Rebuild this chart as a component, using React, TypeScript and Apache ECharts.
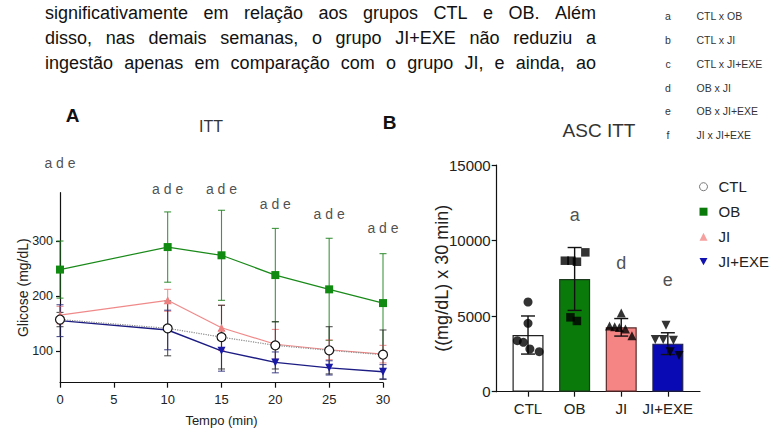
import React, { useEffect, useRef } from "react";
import * as echarts from "echarts";

const FONT = '"Liberation Sans", Arial, sans-serif';

// ---- Paragraph text (top of the page) ----
const PARAGRAPH_LINES = [
  "significativamente em relação aos grupos CTL e OB. Além",
  "disso, nas demais semanas, o grupo JI+EXE não reduziu a",
  "ingestão apenas em comparação com o grupo JI, e ainda, ao",
];

// ---- Key of significance letters ----
const KEY_LETTERS = ["a", "b", "c", "d", "e", "f"];
const KEY_TEXTS = ["CTL x OB", "CTL x JI", "CTL x JI+EXE", "OB x JI", "OB x JI+EXE", "JI x JI+EXE"];

// ---- Panel A: ITT ----
const TIMES = [0, 10, 15, 20, 25, 30];
const CTL_MEAN = [157, 141, 125, 110, 101, 93];
const CTL_SD = [13, 50, 58, 43, 43, 45];
const OB_MEAN = [248, 289, 274, 238, 212, 187];
const OB_SD = [52, 64, 82, 85, 93, 90];
const JI_MEAN = [165, 192, 142, 112, 102, 94];
const JI_SD = [16, 20, 41, 27, 18, 16];
const JEX_MEAN = [155, 138, 100, 79, 69, 62];
const JEX_SD = [29, 36, 37, 19, 13, 13];
const SIG_A_TEXT = ["a d e", "a d e", "a d e", "a d e", "a d e", "a d e"];
const SIG_A_Y = [442, 395, 395, 367, 349, 324];
const Y_TICKS_A = [100, 200, 300];

// ---- Panel B: ASC ITT ----
const GROUPS = ["CTL", "OB", "JI", "JI+EXE"];
const AUC_MEAN = [3750, 7460, 4260, 3180];
const AUC_SD = [1260, 2080, 580, 720];
const CTL_PTS = [5935, 4525, 3375, 3270, 2825, 2650];
const CTL_JIT = [0, 0, -0.23, -0.1, 0.04, 0.24];
const OB_PTS = [8668, 8668, 8600, 9220, 4920, 4680];
const OB_JIT = [-0.21, -0.07, 0.05, 0.23, -0.09, 0.05];
const JI_PTS = [5200, 4350, 4300, 4250, 4150, 3700];
const JI_JIT = [0, -0.25, -0.14, -0.04, 0.09, 0.23];
const JEX_PTS = [4400, 3450, 3450, 3400, 2650, 2400];
const JEX_JIT = [-0.04, -0.27, -0.1, 0.12, 0.05, 0.24];
const SIG_B_TEXT = ["a", "d", "e"];
const SIG_B_X = [1, 2, 3];
const SIG_B_Y = [11700, 8500, 7400];

const C_OB = "#1a8a1a";
const C_JI = "#f08a8a";
const C_JEX = "#1c1c84";
const C_CTL_LINE = "#8a8a8a";

function errRender(color: string, half: number, width: number) {
  return (params: any, api: any) => {
    const x = api.value(0);
    const pLo = api.coord([x, api.value(1)]);
    const pHi = api.coord([x, api.value(2)]);
    const style = { stroke: color, lineWidth: width, fill: "none" };
    return {
      type: "group",
      children: [
        { type: "line", shape: { x1: pLo[0], y1: pLo[1], x2: pHi[0], y2: pHi[1] }, style },
        { type: "line", shape: { x1: pHi[0] - half, y1: pHi[1], x2: pHi[0] + half, y2: pHi[1] }, style },
        { type: "line", shape: { x1: pLo[0] - half, y1: pLo[1], x2: pLo[0] + half, y2: pLo[1] }, style },
      ],
    };
  };
}

function errData(xs: number[], mean: number[], sd: number[]) {
  return xs.map((x, i) => [x, mean[i] - sd[i], mean[i] + sd[i]]);
}

function errSeries(name: string, xi: number, data: any[], color: string, half: number, width: number, z: number) {
  return {
    name,
    type: "custom",
    xAxisIndex: xi,
    yAxisIndex: xi,
    silent: true,
    z,
    renderItem: errRender(color, half, width),
    encode: { x: 0, y: [1, 2] },
    data,
  };
}

export default function App() {
  const ref = useRef<HTMLDivElement>(null);

  useEffect(() => {
    if (!ref.current) return;
    const chart = echarts.init(ref.current, null, { renderer: "svg" });

    // justified paragraph
    const ctx = document.createElement("canvas").getContext("2d")!;
    const PFS = 18;
    ctx.font = `${PFS}px "Liberation Sans"`;
    const pLeft = 45;
    const pRight = 596;
    const lineY = [13, 38, 63];
    const paraEls: any[] = [];
    PARAGRAPH_LINES.forEach((line, li) => {
      const words = line.split(" ");
      const ws = words.map((w) => ctx.measureText(w).width);
      const total = ws.reduce((a, b) => a + b, 0);
      const gap = (pRight - pLeft - total) / (words.length - 1);
      let x = pLeft;
      words.forEach((w, i) => {
        paraEls.push({
          type: "text",
          x,
          y: lineY[li],
          style: { text: w, fontSize: PFS, fontFamily: FONT, fill: "#111", align: "left", verticalAlign: "middle" },
        });
        x += ws[i] + gap;
      });
    });

    const keyEls: any[] = [];
    const keyY = [16, 40, 63.5, 87.5, 111, 135];
    KEY_LETTERS.forEach((l, i) => {
      keyEls.push({
        type: "text",
        x: 668,
        y: keyY[i],
        style: { text: l, fontSize: 10.5, fontFamily: FONT, fill: "#333", align: "center", verticalAlign: "middle" },
      });
      keyEls.push({
        type: "text",
        x: 696.5,
        y: keyY[i],
        style: { text: KEY_TEXTS[i], fontSize: 10.5, fontFamily: FONT, fill: "#333", align: "left", verticalAlign: "middle" },
      });
    });

    const axisLine = { show: true, onZero: false, lineStyle: { color: "#111", width: 1.2 } };
    const tickStyle = { color: "#111", width: 1.2 };

    const option: any = {
      animation: false,
      textStyle: { fontFamily: FONT },
      grid: [
        { left: 60, top: 192.7, width: 323, height: 190 },
        { left: 496.7, top: 165, width: 203.3, height: 226.7 },
      ],
      xAxis: [
        {
          type: "value",
          gridIndex: 0,
          min: 0,
          max: 30,
          interval: 5,
          axisLine,
          axisTick: { show: true, length: 5, lineStyle: tickStyle },
          axisLabel: { fontSize: 13, color: "#222", margin: 10 },
          splitLine: { show: false },
          name: "Tempo (min)",
          nameLocation: "middle",
          nameGap: 31,
          nameMoveOverlap: false,
          nameTextStyle: { fontSize: 13, color: "#222" },
        },
        {
          type: "value",
          gridIndex: 1,
          min: -0.672,
          max: 3.69,
          axisLine,
          axisTick: { show: true, length: 5, lineStyle: tickStyle, customValues: [0, 1, 2, 3] },
          axisLabel: {
            customValues: [0, 1, 2, 3],
            formatter: (v: number) => GROUPS[Math.round(v)],
            fontSize: 15,
            color: "#222",
            margin: 9,
          },
          splitLine: { show: false },
        },
      ],
      yAxis: [
        {
          type: "value",
          gridIndex: 0,
          min: 42,
          max: 388,
          axisLine,
          axisTick: { show: true, length: 4, lineStyle: tickStyle, customValues: Y_TICKS_A },
          axisLabel: { customValues: Y_TICKS_A, fontSize: 12.5, color: "#222", margin: 7 },
          splitLine: { show: false },
          name: "Glicose (mg/dL)",
          nameLocation: "middle",
          nameGap: 30,
          nameMoveOverlap: false,
          nameTextStyle: { fontSize: 14, color: "#222" },
        },
        {
          type: "value",
          gridIndex: 1,
          min: 0,
          max: 15000,
          interval: 5000,
          axisLine,
          axisTick: { show: true, length: 5, lineStyle: tickStyle },
          axisLabel: { fontSize: 15, color: "#222", margin: 6, formatter: (v: number) => String(v) },
          splitLine: { show: false },
          name: "((mg/dL) x 30 min)",
          nameLocation: "middle",
          nameGap: 46,
          nameMoveOverlap: false,
          nameTextStyle: { fontSize: 18, color: "#222" },
        },
      ],
      legend: {
        orient: "vertical",
        left: 694,
        top: 173.7,
        itemWidth: 8,
        itemHeight: 8,
        itemGap: 9,
        textStyle: { fontSize: 15, color: "#222", lineHeight: 16, padding: [0, 0, 0, 6] },
        data: [
          { name: "CTL", icon: "circle", itemStyle: { color: "#fff", borderColor: "#777", borderWidth: 1 } },
          { name: "OB", icon: "rect", itemStyle: { color: "#0a7a0a", borderWidth: 0 } },
          { name: "JI", icon: "triangle", itemStyle: { color: "#f7a0a0", borderWidth: 0 } },
          { name: "JI+EXE", icon: "path://M0,0 L10,0 L5,9 Z", itemStyle: { color: "#1212b0", borderWidth: 0 } },
        ],
      },
      graphic: [
        ...paraEls,
        ...keyEls,
        { type: "text", x: 72.5, y: 115, style: { text: "A", fontSize: 19, fontWeight: "bold", fontFamily: FONT, fill: "#111", align: "center", verticalAlign: "middle" } },
        { type: "text", x: 389.5, y: 122, style: { text: "B", fontSize: 19, fontWeight: "bold", fontFamily: FONT, fill: "#111", align: "center", verticalAlign: "middle" } },
        { type: "text", x: 211, y: 126.5, style: { text: "ITT", fontSize: 16, fontFamily: FONT, fill: "#333", align: "center", verticalAlign: "middle" } },
        { type: "text", x: 599, y: 130.5, style: { text: "ASC ITT", fontSize: 19, fontFamily: FONT, fill: "#333", align: "center", verticalAlign: "middle" } },
      ],
      series: [
        // Panel A error bars
        errSeries("err-OB", 0, errData(TIMES, OB_MEAN, OB_SD), "rgba(30,130,30,0.85)", 3.5, 1.1, 1),
        errSeries("err-JI", 0, errData(TIMES, JI_MEAN, JI_SD), "rgba(235,130,130,0.85)", 3.5, 1.1, 1),
        errSeries("err-CTL", 0, errData(TIMES, CTL_MEAN, CTL_SD), "rgba(40,40,40,0.8)", 3.5, 1.1, 1),
        errSeries("err-JEX", 0, errData(TIMES, JEX_MEAN, JEX_SD), "rgba(40,40,120,0.8)", 3.5, 1.1, 1),
        // Panel A lines
        {
          name: "JI",
          type: "line",
          xAxisIndex: 0,
          yAxisIndex: 0,
          data: TIMES.map((t, i) => [t, JI_MEAN[i]]),
          symbol: "triangle",
          symbolSize: 8,
          lineStyle: { color: C_JI, width: 1.2 },
          itemStyle: { color: "#ee8080" },
          z: 3,
        },
        {
          name: "OB",
          type: "line",
          xAxisIndex: 0,
          yAxisIndex: 0,
          data: TIMES.map((t, i) => [t, OB_MEAN[i]]),
          symbol: "rect",
          symbolSize: 8,
          lineStyle: { color: C_OB, width: 1.2 },
          itemStyle: { color: "#108a10" },
          z: 3,
        },
        {
          name: "JI+EXE",
          type: "line",
          xAxisIndex: 0,
          yAxisIndex: 0,
          data: TIMES.map((t, i) => [t, JEX_MEAN[i]]),
          symbol: "triangle",
          symbolRotate: 180,
          symbolSize: 8,
          lineStyle: { color: C_JEX, width: 1.4 },
          itemStyle: { color: "#1a1aa8" },
          z: 4,
        },
        {
          name: "CTL",
          type: "line",
          xAxisIndex: 0,
          yAxisIndex: 0,
          data: TIMES.map((t, i) => [t, CTL_MEAN[i]]),
          symbol: "circle",
          symbolSize: 9,
          showAllSymbol: true,
          lineStyle: { color: C_CTL_LINE, width: 1.2, type: "dotted" },
          itemStyle: { color: "#fff", borderColor: "#111", borderWidth: 1.2 },
          z: 5,
        },
        // Panel A significance letters
        {
          name: "sig-A",
          type: "scatter",
          xAxisIndex: 0,
          yAxisIndex: 0,
          clip: false,
          silent: true,
          symbolSize: 1,
          itemStyle: { color: "rgba(0,0,0,0)" },
          label: {
            show: true,
            position: "inside",
            formatter: (p: any) => SIG_A_TEXT[p.dataIndex],
            fontSize: 14,
            color: "#222",
            fontFamily: FONT,
          },
          data: TIMES.map((t, i) => [t, SIG_A_Y[i]]),
        },
        // Panel B bars
        {
          name: "bars",
          type: "bar",
          xAxisIndex: 1,
          yAxisIndex: 1,
          barWidth: 31,
          z: 2,
          data: AUC_MEAN.map((v, i) => ({
            value: [i, v],
            itemStyle: {
              color: ["#ffffff", "#0a7a0a", "#f58585", "#0a0ab4"][i],
              borderColor: ["#222", "#1e3a1e", "#5a2a2a", "#202050"][i],
              borderWidth: 1.2,
            },
          })),
        },
        errSeries("err-B", 1, errData([0, 1, 2, 3], AUC_MEAN, AUC_SD), "#111", 7, 1.4, 3),
        // Panel B individual points
        {
          name: "pts-CTL",
          type: "scatter",
          xAxisIndex: 1,
          yAxisIndex: 1,
          symbol: "circle",
          symbolSize: 9,
          itemStyle: { color: "#000" },
          z: 4,
          data: CTL_PTS.map((v, i) => [0 + CTL_JIT[i], v]),
        },
        {
          name: "pts-OB",
          type: "scatter",
          xAxisIndex: 1,
          yAxisIndex: 1,
          symbol: "rect",
          symbolSize: 8.5,
          itemStyle: { color: "#000" },
          z: 4,
          data: OB_PTS.map((v, i) => [1 + OB_JIT[i], v]),
        },
        {
          name: "pts-JI",
          type: "scatter",
          xAxisIndex: 1,
          yAxisIndex: 1,
          symbol: "triangle",
          symbolSize: 9,
          itemStyle: { color: "#000" },
          z: 4,
          data: JI_PTS.map((v, i) => [2 + JI_JIT[i], v]),
        },
        {
          name: "pts-JEX",
          type: "scatter",
          xAxisIndex: 1,
          yAxisIndex: 1,
          symbol: "triangle",
          symbolRotate: 180,
          symbolSize: 9,
          itemStyle: { color: "#000" },
          z: 4,
          data: JEX_PTS.map((v, i) => [3 + JEX_JIT[i], v]),
        },
        // Panel B significance letters
        {
          name: "sig-B",
          type: "scatter",
          xAxisIndex: 1,
          yAxisIndex: 1,
          clip: false,
          silent: true,
          symbolSize: 1,
          itemStyle: { color: "rgba(0,0,0,0)" },
          label: {
            show: true,
            position: "inside",
            formatter: (p: any) => SIG_B_TEXT[p.dataIndex],
            fontSize: 18,
            color: "#222",
            fontFamily: FONT,
          },
          data: SIG_B_X.map((x, i) => [x, SIG_B_Y[i]]),
        },
      ],
    };

    chart.setOption(option);
    return () => chart.dispose();
  }, []);

  return (
    <div
      ref={ref}
      style={{ position: "fixed", left: 0, top: 0, width: 777, height: 428, background: "#fff" }}
    />
  );
}
